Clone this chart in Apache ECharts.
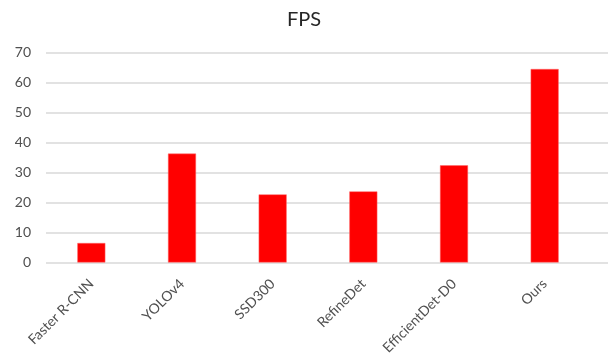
<!DOCTYPE html>
<html>
<head>
<meta charset="utf-8">
<script src="https://cdn.jsdelivr.net/npm/echarts@6/dist/echarts.min.js"></script>
<style>
  html, body { margin: 0; padding: 0; background: #ffffff; }
  #chart { width: 608px; height: 355px; }
</style>
</head>
<body>
<div id="chart"></div>
<script>
// Detector names along the x axis
const categories = ['Faster R-CNN', 'YOLOv4', 'SSD300', 'RefineDet', 'EfficientDet-D0', 'Ours'];
// Frames per second for each detector
const fpsValues = [6.5, 36.3, 22.7, 23.7, 32.4, 64.5];
// Value axis ticks
const yMin = 0;
const yMax = 70;
const yStep = 10;

const textColor = '#505050';
const gridColor = '#d9d9d9';
const fontFamily = 'Lato, "Open Sans", sans-serif';

const chart = echarts.init(document.getElementById('chart'), null, { renderer: 'canvas' });

chart.setOption({
  animation: false,
  backgroundColor: '#ffffff',
  title: {
    text: 'FPS',
    left: 'center',
    top: 5,
    textStyle: { color: '#262626', fontSize: 20, fontWeight: 'normal', fontFamily: fontFamily }
  },
  grid: [
    // plot area for the bars
    { left: 46, right: 18, top: 52.5, bottom: 92.5, containLabel: false, outerBoundsMode: 'none' },
    // horizontal rules spanning the full width
    { left: 46, right: 0, top: 52.5, bottom: 92.5, containLabel: false, outerBoundsMode: 'none' }
  ],
  xAxis: [
    {
      type: 'category',
      gridIndex: 0,
      data: categories,
      axisLine: { show: false },
      axisTick: { show: false },
      axisLabel: {
        rotate: 45,
        interval: 0,
        margin: 19,
        color: textColor,
        fontSize: 14,
        fontFamily: fontFamily
      },
      splitLine: { show: false }
    },
    {
      type: 'category',
      gridIndex: 1,
      data: [''],
      show: false
    }
  ],
  yAxis: [
    {
      type: 'value',
      gridIndex: 0,
      min: yMin,
      max: yMax,
      interval: yStep,
      axisLine: { show: false },
      axisTick: { show: false },
      axisLabel: {
        margin: 15,
        color: textColor,
        fontSize: 14,
        fontFamily: fontFamily
      },
      splitLine: { show: false }
    },
    {
      type: 'value',
      gridIndex: 1,
      min: yMin,
      max: yMax,
      interval: yStep,
      axisLine: { show: false },
      axisTick: { show: false },
      axisLabel: { show: false },
      splitLine: { show: true, lineStyle: { color: gridColor, width: 1.5 } },
      z: 0
    }
  ],
  series: [
    {
      type: 'bar',
      xAxisIndex: 0,
      yAxisIndex: 0,
      data: fpsValues,
      barWidth: 28,
      itemStyle: { color: '#ff0000', borderColor: '#ff6b6b', borderWidth: 0.5 },
      z: 5
    }
  ]
});
</script>
</body>
</html>
